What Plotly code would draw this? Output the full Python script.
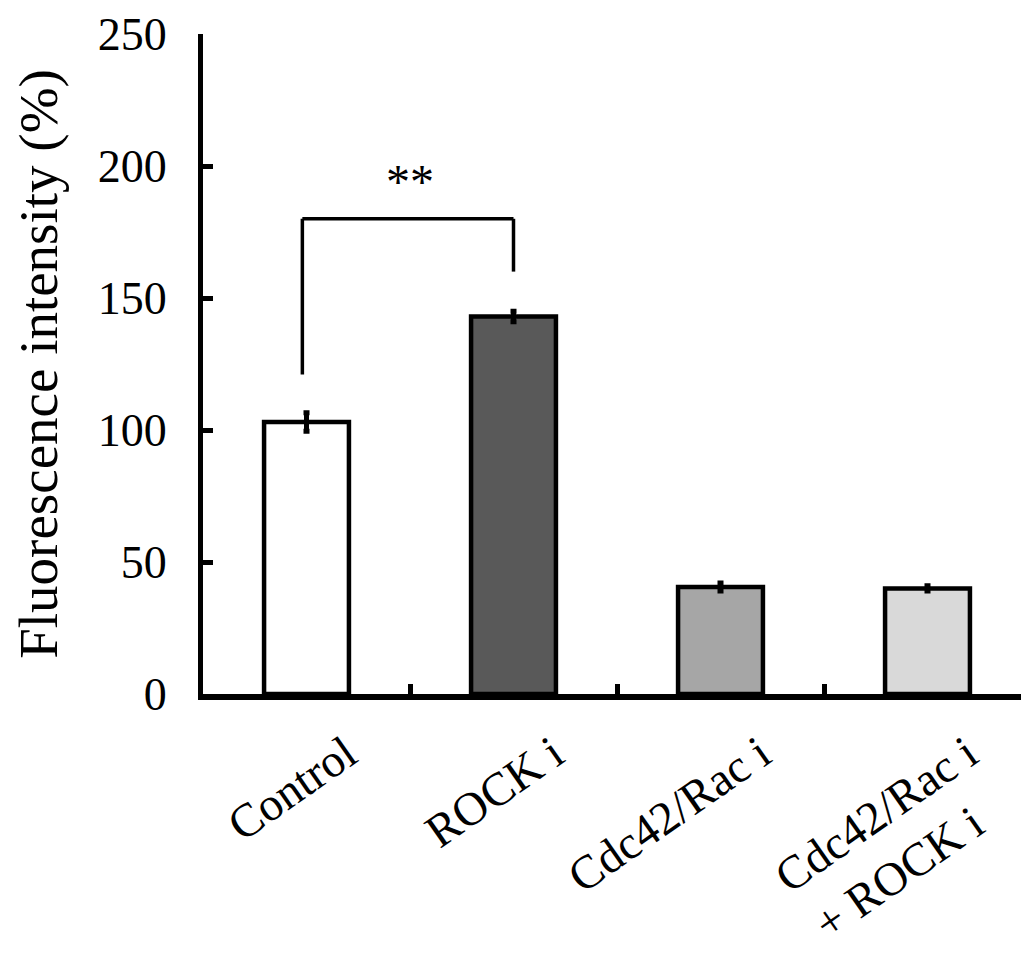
import plotly.graph_objects as go

categories = ["Control", "ROCK i", "Cdc42/Rac i", "Cdc42/Rac i<br>+ ROCK i&nbsp;&nbsp;&nbsp;"]
values = [103, 143, 40.5, 40]
errors = [3.5, 2, 1.5, 1]
colors = ["#ffffff", "#595959", "#a6a6a6", "#d9d9d9"]
y_ticks = [0, 50, 100, 150, 200, 250]

sig_left_y = 121
sig_right_y = 160
sig_top_y = 180
sig_label_y = 194
sig_label = "**"

font_family = "Liberation Serif, Times New Roman, serif"

fig = go.Figure()
fig.add_trace(go.Bar(
    x=categories, y=values,
    marker=dict(color=colors, line=dict(color="black", width=4.5)),
    width=0.41,
    error_y=dict(type="data", array=errors, visible=True, color="black", thickness=5, width=3),
    showlegend=False,
))

bracket = dict(color="black", width=3.5)
fig.add_shape(type="line", xref="x", yref="y", x0=-0.02, x1=-0.02, y0=sig_left_y, y1=sig_top_y, line=bracket)
fig.add_shape(type="line", xref="x", yref="y", x0=-0.02, x1=1, y0=sig_top_y, y1=sig_top_y, line=bracket)
fig.add_shape(type="line", xref="x", yref="y", x0=1, x1=1, y0=sig_top_y, y1=sig_right_y, line=bracket)
fig.add_annotation(x=0.5, y=sig_label_y, xref="x", yref="y", text=sig_label, showarrow=False,
                   font=dict(size=48, family=font_family, color="black"))

fig.update_layout(
    width=1029, height=958,
    margin=dict(l=195, r=6, t=26, b=272),
    plot_bgcolor="white", paper_bgcolor="white",
    font=dict(family=font_family, size=47, color="black"),
)
fig.update_yaxes(
    range=[0, 250], tickvals=y_ticks, showgrid=False, zeroline=False, automargin=False,
    showline=True, linecolor="black", linewidth=5,
    ticks="inside", ticklen=10, tickwidth=5, tickcolor="black",
    tickfont=dict(size=46, family=font_family), ticklabelstandoff=22,
    ticklabeloverflow="allow",
    title=dict(text="Fluorescence intensity (%)", font=dict(size=55, family=font_family), standoff=24),
)
fig.update_xaxes(
    range=[-0.5, 3.5], showgrid=False, zeroline=False, automargin=False,
    showline=True, linecolor="black", linewidth=6,
    ticks="inside", tickson="boundaries", ticklen=10, tickwidth=5, tickcolor="black",
    tickangle=-35, tickfont=dict(size=47, family=font_family),
    ticklabelshift=40, ticklabelstandoff=8, ticklabeloverflow="allow",
)

fig.write_html("out.html")
